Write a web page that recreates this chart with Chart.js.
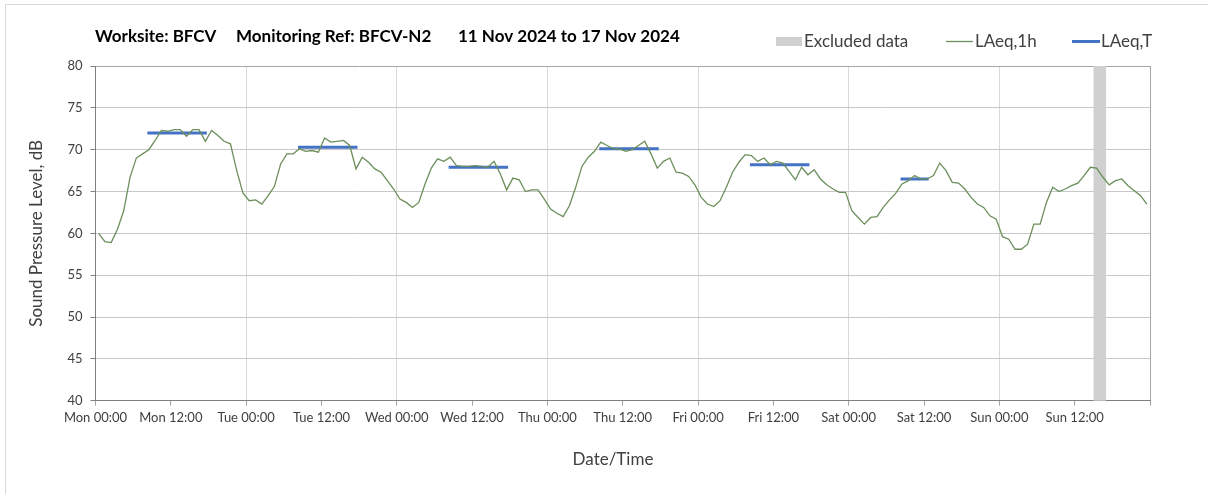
<!DOCTYPE html>
<html>
<head>
<meta charset="utf-8">
<title>BFCV-N2 noise monitoring</title>
<script src="https://cdn.jsdelivr.net/npm/chart.js@4.4.1/dist/chart.umd.min.js"></script>
<style>
  body { margin: 0; background: #fff; }
</style>
</head>
<body>
<canvas id="noiseChart" width="1208" height="494"></canvas>
<script>
// LAeq,1h readings, one per hour from Mon 00:00 to Sun 23:00
const laeq1h = [
    60.0, 59.0, 58.9, 60.5, 62.7, 66.7, 69.0, 69.5, 70.0, 71.1, 72.3, 72.2,   // Mon
    72.4, 72.4, 71.6, 72.4, 72.4, 71.0, 72.3, 71.7, 71.0, 70.7, 67.5, 64.8,
    63.9, 64.0, 63.5, 64.5, 65.6, 68.3, 69.5, 69.5, 70.1, 69.8, 69.9, 69.7,   // Tue
    71.4, 70.9, 71.0, 71.1, 70.5, 67.7, 69.1, 68.5, 67.7, 67.3, 66.3, 65.3,
    64.1, 63.7, 63.1, 63.7, 65.9, 67.8, 68.9, 68.6, 69.1, 68.1, 68.0, 68.0,   // Wed
    68.1, 68.0, 67.9, 68.6, 67.1, 65.2, 66.6, 66.4, 65.0, 65.2, 65.2, 64.1,
    62.9, 62.4, 62.0, 63.3, 65.5, 68.0, 69.1, 69.8, 70.9, 70.5, 70.1, 70.1,   // Thu
    69.8, 70.0, 70.5, 71.0, 69.5, 67.8, 68.6, 69.0, 67.3, 67.2, 66.8, 65.8,
    64.3, 63.5, 63.2, 63.9, 65.5, 67.3, 68.5, 69.4, 69.3, 68.6, 69.0, 68.2,   // Fri
    68.6, 68.4, 67.4, 66.4, 67.9, 67.0, 67.6, 66.5, 65.8, 65.3, 64.9, 64.9,
    62.7, 61.9, 61.1, 61.9, 62.0, 63.1, 64.0, 64.8, 65.9, 66.3, 66.9, 66.5,   // Sat
    66.5, 66.9, 68.4, 67.5, 66.1, 66.0, 65.3, 64.3, 63.5, 63.1, 62.1, 61.7,
    59.6, 59.3, 58.1, 58.1, 58.7, 61.1, 61.1, 63.7, 65.5, 65.0, 65.3, 65.7,   // Sun
    66.0, 66.9, 67.9, 67.8, 66.7, 65.8, 66.3, 66.5, 65.7, 65.1, 64.5, 63.5
];

// LAeq,T over each daytime period (hour index of first and last reading)
const periodStart = [8, 32, 56, 80, 104, 128];
const periodEnd = [17, 41, 65, 89, 113, 132];
const laeqT = [72.0, 70.3, 67.9, 70.1, 68.2, 66.5];

// excluded data, in hours from Mon 00:00
const excludedStart = [159];
const excludedEnd = [161];

const tickLabels = ['Mon 00:00', 'Mon 12:00', 'Tue 00:00', 'Tue 12:00', 'Wed 00:00', 'Wed 12:00',
    'Thu 00:00', 'Thu 12:00', 'Fri 00:00', 'Fri 12:00', 'Sat 00:00', 'Sat 12:00',
    'Sun 00:00', 'Sun 12:00'];

const titleParts = ['Worksite: BFCV', 'Monitoring Ref: BFCV-N2', '11 Nov 2024 to 17 Nov 2024'];

const FONT = 'Lato, "Open Sans", sans-serif';
const TEXT = '#404040';

// each reading sits in the middle of its hour
const hourlyPoints = laeq1h.map((v, i) => ({x: i + 0.5, y: v}));

let periodPoints = [];
for (let i = 0; i < laeqT.length; i++) {
    periodPoints.push({x: periodStart[i] + 0.5, y: laeqT[i]});
    periodPoints.push({x: periodEnd[i] + 0.5, y: laeqT[i]});
    periodPoints.push({x: periodEnd[i] + 0.5, y: null});   // break between days
}

// grey band behind the lines for excluded hours
const excludedBand = {
    id: 'excludedBand',
    beforeDatasetsDraw(chart) {
        const {ctx, chartArea, scales: {x}} = chart;
        ctx.save();
        ctx.fillStyle = '#d0d0d0';
        for (let i = 0; i < excludedStart.length; i++) {
            const x1 = x.getPixelForValue(excludedStart[i]);
            const x2 = x.getPixelForValue(excludedEnd[i]);
            ctx.fillRect(x1, chartArea.top, x2 - x1, chartArea.bottom - chartArea.top);
        }
        ctx.restore();
    }
};

// title line and legend share one row, so draw them by hand
const header = {
    id: 'header',
    afterDraw(chart) {
        const ctx = chart.ctx;
        ctx.save();
        ctx.strokeStyle = '#d9d9d9';
        ctx.lineWidth = 1;
        ctx.strokeRect(5.5, 4.5, 1400, 700);

        ctx.textAlign = 'left';
        ctx.textBaseline = 'alphabetic';
        ctx.fillStyle = '#000';
        ctx.font = 'bold 17px ' + FONT;
        const partX = [95, 236, 458];
        titleParts.forEach((t, i) => ctx.fillText(t, partX[i], 42));

        ctx.font = '17px ' + FONT;
        ctx.fillStyle = '#d0d0d0';
        ctx.fillRect(776, 37, 26, 9);
        ctx.fillStyle = TEXT;
        ctx.fillText('Excluded data', 804, 47);

        ctx.strokeStyle = chart.data.datasets[0].borderColor;
        ctx.lineWidth = 1.3;
        ctx.beginPath(); ctx.moveTo(946, 41.5); ctx.lineTo(973, 41.5); ctx.stroke();
        ctx.fillText(chart.data.datasets[0].label, 975, 47);

        ctx.strokeStyle = chart.data.datasets[1].borderColor;
        ctx.lineWidth = 3;
        ctx.beginPath(); ctx.moveTo(1072, 41.5); ctx.lineTo(1100, 41.5); ctx.stroke();
        ctx.fillText(chart.data.datasets[1].label, 1101, 47);

        // x axis title sits a little left of the plot centre in the original
        ctx.textAlign = 'center';
        ctx.textBaseline = 'middle';
        ctx.fillText('Date/Time', 613, 460);
        ctx.restore();
    }
};

const config = {
    type: 'line',
    data: {
        datasets: [
            {
                label: 'LAeq,1h',
                data: hourlyPoints,
                borderColor: '#6b8e5a',
                borderWidth: 1.3,
                pointRadius: 0,
                tension: 0
            },
            {
                label: 'LAeq,T',
                data: periodPoints,
                borderColor: '#4472c4',
                borderWidth: 3,
                borderCapStyle: 'square',
                pointRadius: 0,
                spanGaps: false
            }
        ]
    },
    plugins: [excludedBand, header],
    options: {
        responsive: false,
        animation: false,
        events: [],
        layout: {
            padding: {left: 0, top: 66, right: 58, bottom: 0}
        },
        plugins: {
            legend: {display: false},
            title: {display: false},
            tooltip: {enabled: false}
        },
        scales: {
            x: {
                type: 'linear',
                min: 0,
                max: 168,
                afterFit(scale) { scale.height = 93.3; },
                ticks: {
                    stepSize: 12,
                    autoSkip: false,
                    maxRotation: 0,
                    padding: 4,
                    color: TEXT,
                    font: {family: FONT, size: 13},
                    callback: value => tickLabels[value / 12] || ''
                },
                grid: {
                    color: ctx => {
                        if (!ctx.tick) return 'rgba(0,0,0,0)';
                        if (ctx.tick.value === 168) return '#a6a6a6';
                        return ctx.tick.value % 24 === 0 ? '#d9d9d9' : 'rgba(0,0,0,0)';
                    },
                    tickColor: '#a6a6a6',
                    tickLength: 5
                },
                border: {color: '#808080'}
            },
            y: {
                min: 40,
                max: 80,
                afterFit(scale) { scale.width = 95.5; },
                ticks: {
                    stepSize: 5,
                    padding: 8,
                    color: TEXT,
                    font: {family: FONT, size: 13}
                },
                grid: {
                    color: ctx => ctx.tick && ctx.tick.value === 80 ? '#a6a6a6' : '#c8c8c8',
                    tickColor: '#808080',
                    tickLength: 5
                },
                border: {color: '#808080'},
                title: {
                    display: true,
                    text: 'Sound Pressure Level, dB',
                    color: TEXT,
                    font: {family: FONT, size: 17},
                    padding: {top: 26, bottom: 0}
                }
            }
        }
    }
};

const noiseChart = new Chart(document.getElementById('noiseChart'), config);
</script>
</body>
</html>
